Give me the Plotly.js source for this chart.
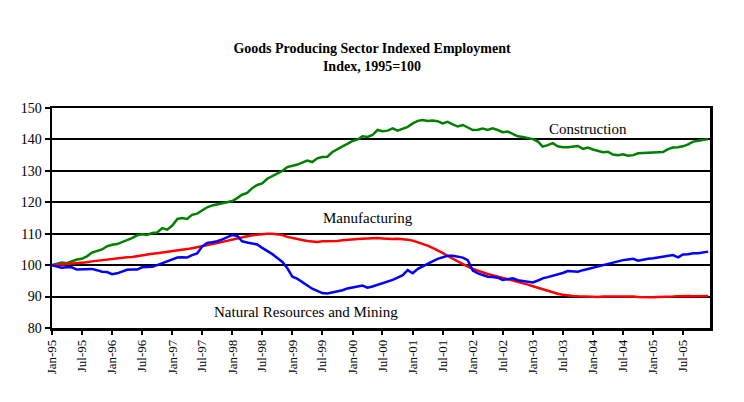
<!DOCTYPE html>
<html>
<head>
<meta charset="utf-8">
<script src="https://cdn.plot.ly/plotly-3.0.1.min.js"></script>
<style>html,body{margin:0;padding:0;background:#fff;}#chart{width:744px;height:402px;}</style>
</head>
<body>
<div id="chart"></div>
<script>
// Monthly index values, Jan-1995 .. Dec-2005 (1995=100)
var construction = [
100.0,100.5,100.8,100.6,101.3,101.8,102.0,102.8,104.0,104.6,105.0,106.0,
106.5,106.7,107.3,108.0,108.6,109.5,109.8,109.6,110.2,110.4,111.8,111.3,
112.6,114.7,115.0,114.7,116.0,116.4,117.4,118.4,119.0,119.4,119.7,120.0,
120.4,121.4,122.4,123.0,124.5,125.5,126.0,127.5,128.4,129.2,130.0,131.2,
131.5,132.0,132.6,133.3,132.8,134.0,134.4,134.5,136.0,137.0,137.8,138.6,
139.5,140.0,141.0,140.8,141.4,143.0,142.6,142.8,143.5,142.8,143.3,144.0,
145.1,145.9,146.2,145.9,146.0,145.8,145.1,145.6,144.8,144.1,144.6,143.9,
143.0,143.1,143.5,143.0,143.5,143.0,142.3,142.5,141.6,141.0,140.8,140.5,
140.1,139.3,137.7,138.2,138.8,137.8,137.5,137.5,137.6,137.9,137.0,137.4,
136.8,136.3,135.9,136.1,135.2,135.0,135.3,134.8,135.0,135.6,135.7,135.8,
135.8,135.8,136.0,136.9,137.4,137.5,137.8,138.4,139.3,139.6,139.8,140.1];
var manufacturing = [
100.0,100.1,100.2,100.3,100.4,100.5,100.7,100.9,101.2,101.4,101.7,101.9,
102.0,102.1,102.3,102.5,102.6,102.9,103.2,103.5,103.6,103.8,104.0,104.1,
104.3,104.6,104.8,105.1,105.4,105.7,105.9,106.3,106.7,107.0,107.4,107.8,
108.2,108.6,108.9,109.2,109.5,109.7,109.9,110.0,110.0,109.9,109.6,109.0,
108.6,108.4,108.0,107.7,107.5,107.4,107.6,107.6,107.5,107.7,107.9,108.1,
108.2,108.3,108.4,108.5,108.4,108.6,108.5,108.3,108.3,108.4,108.3,108.1,
107.8,107.3,106.8,106.2,105.5,104.8,103.9,102.9,102.0,101.2,100.4,99.5,
98.8,98.2,97.7,97.2,96.8,96.4,96.0,95.6,95.2,94.8,94.3,93.8,
93.3,92.8,92.2,91.8,91.3,90.9,90.6,90.3,90.2,90.1,90.0,90.0,
90.0,89.9,90.0,90.0,90.1,90.2,90.1,90.0,90.0,89.9,89.8,89.7,
89.8,89.9,89.9,89.8,90.0,90.1,90.2,90.2,90.1,90.1,90.2,90.2];
var mining = [
100.0,99.6,99.2,99.3,99.3,98.6,98.7,98.8,98.8,98.4,97.9,97.8,
97.1,97.4,97.9,98.5,98.6,98.6,99.3,99.5,99.5,100.0,100.6,101.0,
101.8,102.4,102.5,102.4,103.2,103.7,105.9,107.1,107.3,107.6,108.2,108.8,
109.6,109.3,107.6,107.2,106.9,106.6,105.5,104.6,103.5,102.3,101.0,99.0,
96.3,95.6,94.7,93.5,92.5,91.8,91.1,91.0,91.3,91.6,92.0,92.6,
93.0,93.2,93.5,92.8,93.2,93.7,94.2,94.7,95.3,96.0,96.8,98.4,
97.4,98.8,99.6,100.6,101.2,102.0,102.6,103.0,103.0,102.8,102.4,101.6,
98.3,97.4,96.9,96.3,96.2,96.0,95.3,95.6,95.8,95.2,95.0,94.8,
94.5,95.1,95.8,96.2,96.6,97.1,97.5,98.1,98.0,97.9,98.4,98.8,
99.2,99.5,100.0,100.4,100.9,101.2,101.6,101.8,102.0,101.4,101.8,102.0,
102.2,102.4,102.7,103.0,103.2,102.5,103.4,103.5,103.8,103.8,104.1,104.3];

var seriesNames = ["Construction", "Manufacturing", "Natural Resources and Mining"];
var seriesColors = ["#008000", "#FF0000", "#0000FF"];
var startYear = 1995, endYear = 2005;

// month dates
var months = [];
for (var y = startYear; y <= endYear; y++) {
  for (var m = 1; m <= 12; m++) {
    months.push(y + "-" + (m < 10 ? "0" + m : m) + "-01");
  }
}
// tick labels Jan / Jul
var tickVals = [], tickText = [];
for (var y2 = startYear; y2 <= endYear; y2++) {
  var yy = String(y2).slice(2);
  tickVals.push(y2 + "-01-01"); tickText.push("Jan-" + yy);
  tickVals.push(y2 + "-07-01"); tickText.push("Jul-" + yy);
}

var values = [construction, manufacturing, mining];
var traces = values.map(function (v, i) {
  return {
    x: months, y: v, type: "scatter", mode: "lines", name: seriesNames[i],
    line: {color: seriesColors[i], width: 2.5}, hoverinfo: "x+y"
  };
});

var font = "Liberation Serif, Times New Roman, serif";
var annFont = {family: font, size: 15, color: "#000"};
var layout = {
  width: 744, height: 402,
  margin: {l: 52, r: 34, t: 108, b: 74},
  paper_bgcolor: "#fff", plot_bgcolor: "#fff",
  showlegend: false,
  font: {family: font, color: "#000", size: 13},
  title: {
    text: "<b>Goods Producing Sector Indexed Employment</b><br><b>Index, 1995=100</b>",
    font: {family: font, size: 14, color: "#000"},
    x: 0.5, xanchor: "center", y: 1 - 53 / 402, yanchor: "middle"
  },
  xaxis: {
    type: "date",
    range: ["1995-01-01", "2005-12-12"],
    tickvals: tickVals, ticktext: tickText,
    tickangle: -90,
    tickfont: {family: font, size: 13, color: "#000"},
    ticks: "outside", ticklen: 4, tickwidth: 2, tickcolor: "#000",
    showgrid: false, zeroline: false,
    showline: true, linecolor: "#000", linewidth: 2.5, mirror: true
  },
  yaxis: {
    range: [80, 150], dtick: 10, tick0: 80,
    tickfont: {family: font, size: 14, color: "#000"},
    ticks: "outside", ticklen: 5, tickwidth: 2, tickcolor: "#000",
    showgrid: true, gridcolor: "#000", gridwidth: 2,
    zeroline: false,
    showline: true, linecolor: "#000", linewidth: 2.5, mirror: true
  },
  annotations: [
    {text: "Construction", xref: "paper", yref: "paper", x: (587.5 - 52) / 658, y: (328 - 129.3) / 220, xanchor: "center", yanchor: "middle", showarrow: false, font: annFont},
    {text: "Manufacturing", xref: "paper", yref: "paper", x: (368 - 52) / 658, y: (328 - 218.3) / 220, xanchor: "center", yanchor: "middle", showarrow: false, font: annFont},
    {text: "Natural Resources and Mining", xref: "paper", yref: "paper", x: (305.5 - 52) / 658, y: (328 - 311.7) / 220, xanchor: "center", yanchor: "middle", showarrow: false, font: annFont}
  ]
};

Plotly.newPlot("chart", traces, layout, {displayModeBar: false, staticPlot: true});
</script>
</body>
</html>
